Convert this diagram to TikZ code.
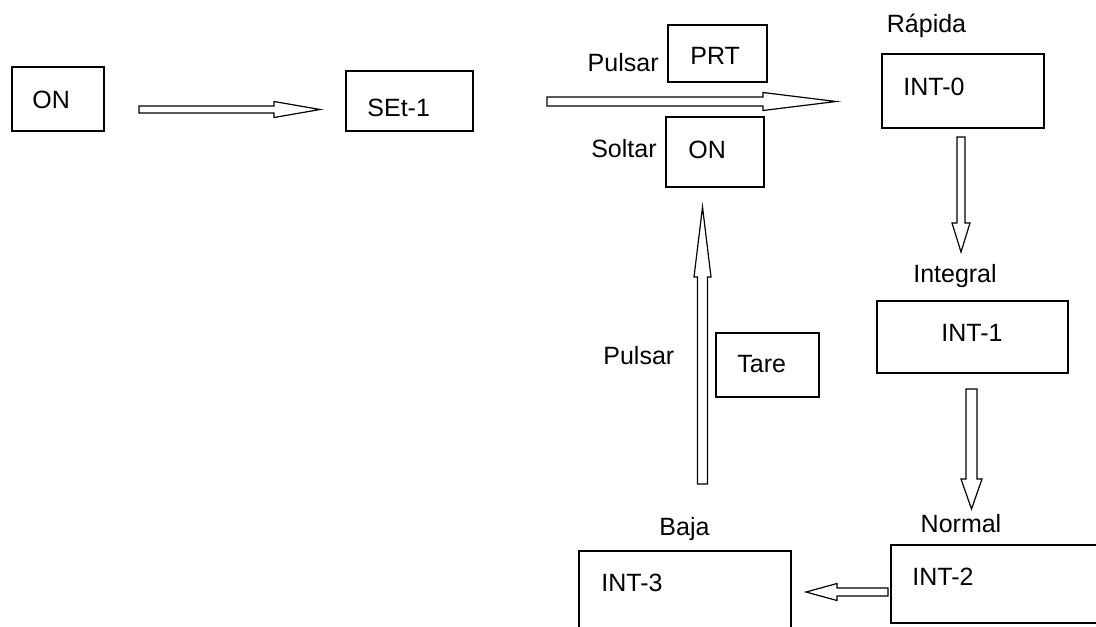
\documentclass[tikz,border=0pt]{standalone}
\usepackage{fontspec}
\setmainfont{Liberation Sans}
\usetikzlibrary{calc}

% hollow block arrow: from, to, half shaft, half head, head length
\newcommand{\hollowarrow}[5]{%
\coordinate (hb) at ($(#2)!#5!(#1)$);
\draw [hollow] ($(#1)!#3!90:(#2)$) -- ($(hb)!#3!90:(#2)$) -- ($(hb)!#4!90:(#2)$) -- (#2)
  -- ($(hb)!#4!-90:(#2)$) -- ($(hb)!#3!-90:(#2)$) -- ($(#1)!#3!-90:(#2)$) -- cycle;}

\tikzset{
  box/.style={draw, line width=0.9pt, inner sep=0pt},
  hollow/.style={draw, line width=0.6pt, line join=miter},
  every node/.style={inner sep=0pt, font=\fontsize{12.5}{15}\selectfont}
}

\begin{document}
\begin{tikzpicture}[x=0.5pt,y=-0.5pt]
\useasboundingbox (0,0) rectangle (1096,626);
\clip (0,0) rectangle (1096,626);
% boxes
\node [box, minimum width=46pt, minimum height=32pt] (on1) at (58,99) {};
\node [box, minimum width=63.5pt, minimum height=30pt] (set1) at (409.5,101) {};
\node [box, minimum width=49.5pt, minimum height=28.5pt] (prt) at (717.5,53.5) {};
\node [box, minimum width=49pt, minimum height=35pt] (on2) at (715,152) {};
\node [box, minimum width=81pt, minimum height=37pt] (int0) at (963,91) {};
\node [box, minimum width=95.5pt, minimum height=36pt] (int1) at (972.5,337) {};
\node [box, minimum width=51.5pt, minimum height=32pt] (tare) at (767.5,365) {};
\node [box, minimum width=106pt, minimum height=64.5pt] (int3) at (685,615.5) {};
\node [box, minimum width=114.5pt, minimum height=39pt] (int2) at (1005.5,584) {};
% box texts
\node [anchor=west] (on1t) at (32,100) {ON};
\node [anchor=west] (set1t) at (367,107.5) {SEt-1};
\node [anchor=west] (prtt) at (690,56) {PRT};
\node [anchor=west] (on2t) at (688,150) {ON};
\node [anchor=west] (int0t) at (903,87) {INT-0};
\node [anchor=west] (int1t) at (941,333) {INT-1};
\node [anchor=west] (taret) at (737,364.5) {Tare};
\node [anchor=west] (int3t) at (601,582.5) {INT-3};
\node [anchor=west] (int2t) at (912,576.5) {INT-2};
% captions
\node [anchor=base] (rapida) at (926.5,33) {Rápida};
\node [anchor=base] (integral) at (955,282) {Integral};
\node [anchor=base] (normal) at (961,532) {Normal};
\node [anchor=base] (baja) at (684.5,535) {Baja};
\node [anchor=base east] (pulsar1) at (659,72) {Pulsar};
\node [anchor=base east] (soltar) at (657,157) {Soltar};
\node [anchor=base west] (pulsar2) at (603,364) {Pulsar};
% arrows
\coordinate (a1s) at (139,109.5);
\coordinate (a1e) at (320,109.5);
\coordinate (a2s) at (547,101.5);
\coordinate (a2e) at (836,101.5);
\coordinate (a3s) at (961,137);
\coordinate (a3e) at (961,252);
\coordinate (a4s) at (971.5,389);
\coordinate (a4e) at (971.5,509);
\coordinate (a5s) at (888,592);
\coordinate (a5e) at (806,592);
\coordinate (a6s) at (702.5,484);
\coordinate (a6e) at (702.5,207);
\hollowarrow{a1s}{a1e}{1.75pt}{4pt}{23pt}
\hollowarrow{a2s}{a2e}{2.25pt}{4.5pt}{36.5pt}
\hollowarrow{a3s}{a3e}{2pt}{4.5pt}{14.5pt}
\hollowarrow{a4s}{a4e}{2.75pt}{5.25pt}{15pt}
\hollowarrow{a5s}{a5e}{2pt}{4.25pt}{15.5pt}
\hollowarrow{a6s}{a6e}{2.5pt}{4.25pt}{35pt}
\end{tikzpicture}
\end{document}
